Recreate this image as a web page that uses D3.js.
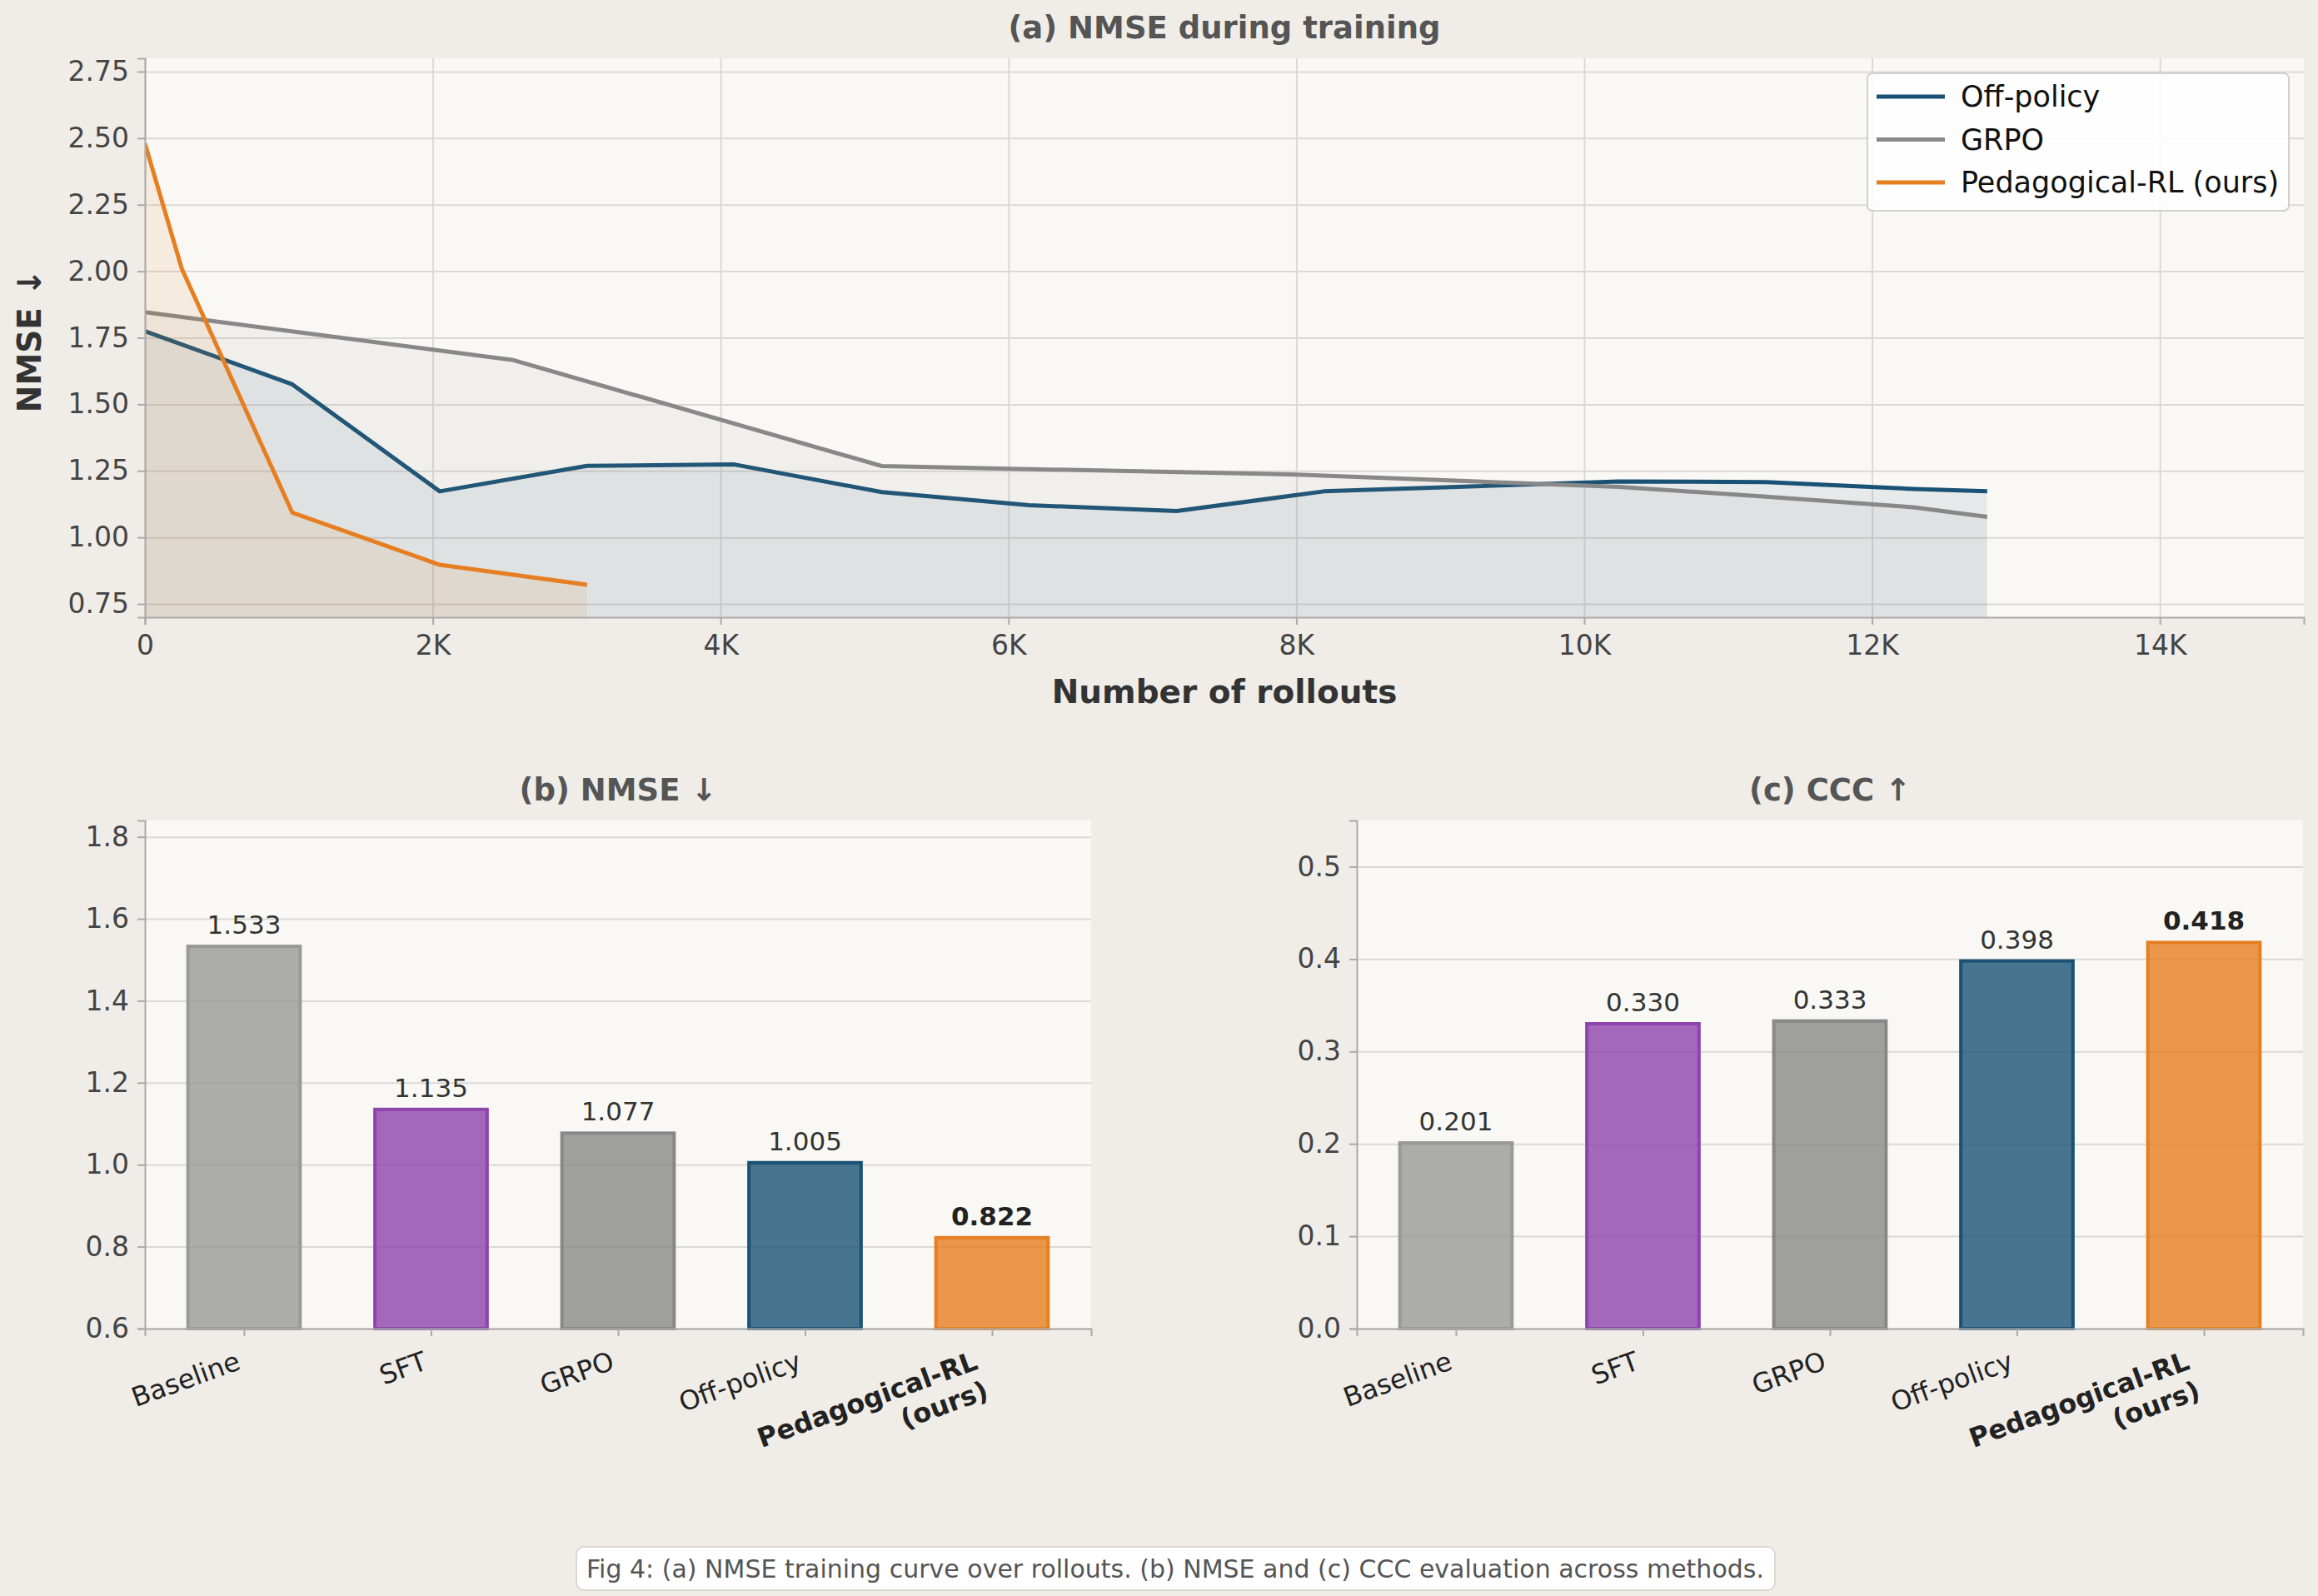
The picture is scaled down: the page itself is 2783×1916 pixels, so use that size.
<!DOCTYPE html>
<html>
<head>
<meta charset="utf-8">
<script src="https://cdn.jsdelivr.net/npm/d3@7"></script>
<style>
  body { margin: 0; background: #f0ede8; }
  text { font-family: "DejaVu Sans", sans-serif; }
</style>
</head>
<body>
<svg id="fig"></svg>
<script>
// ---- data ----
const offPolicyRollouts = [0, 1024, 2048, 3072, 4096, 5120, 6144, 7168, 8192, 10240, 11264, 12288, 12800];
const offPolicyNmse     = [1.775, 1.575, 1.173, 1.269, 1.274, 1.170, 1.121, 1.099, 1.173, 1.210, 1.208, 1.182, 1.173];
const grpoRollouts = [0, 2560, 5120, 8000, 10240, 11264, 12288, 12800];
const grpoNmse     = [1.846, 1.666, 1.268, 1.236, 1.190, 1.153, 1.113, 1.077];
const pedRollouts = [0, 256, 1024, 2048, 3072];
const pedNmse     = [2.48, 2.01, 1.093, 0.897, 0.822];

const seriesNames  = ['Off-policy', 'GRPO', 'Pedagogical-RL (ours)'];
const seriesColors = ['#1a5276', '#888888', '#e67e22'];

const methods    = ['Baseline', 'SFT', 'GRPO', 'Off-policy', 'Pedagogical-RL\n(ours)'];
const nmseScores = [1.533, 1.135, 1.077, 1.005, 0.822];
const cccScores  = [0.201, 0.330, 0.333, 0.398, 0.418];
const barColors  = ['#999999', '#8e44ad', '#888888', '#1a5276', '#e67e22'];

const xTicksTop = [0, 2000, 4000, 6000, 8000, 10000, 12000, 14000];
const yTicksTop = [0.75, 1.00, 1.25, 1.50, 1.75, 2.00, 2.25, 2.50, 2.75];
const yTicksNmse = [0.6, 0.8, 1.0, 1.2, 1.4, 1.6, 1.8];
const yTicksCcc  = [0.0, 0.1, 0.2, 0.3, 0.4, 0.5];

const caption = 'Fig 4: (a) NMSE training curve over rollouts. (b) NMSE and (c) CCC evaluation across methods.';

// ---- figure ----
const W = 2783, H = 1916;
const PLOT_BG = '#f9f8f5', GRID = '#dcd9d4', SPINE = '#aaaaaa';

const svg = d3.select('#fig').attr('width', W).attr('height', H);
svg.append('rect').attr('width', W).attr('height', H).attr('fill', '#f0ede8');

function styleAxis(g) {
  g.select('.domain').attr('stroke', SPINE).attr('stroke-width', 2);
  g.selectAll('.tick line').attr('stroke', SPINE).attr('stroke-width', 2);
  g.selectAll('.tick text').attr('fill', '#444').style('font-size', '33px')
    .style('font-family', '"DejaVu Sans", sans-serif');
}

// ---- (a) training curve ----
const boxA = {left: 174, top: 70, width: 2592, height: 671};
const xTop = d3.scaleLinear().domain([0, 15000]).range([0, boxA.width]);
const yTop = d3.scaleLinear().domain([0.70, 2.80]).range([boxA.height, 0]);

const a = svg.append('g').attr('transform', `translate(${boxA.left},${boxA.top})`);
a.append('rect').attr('width', boxA.width).attr('height', boxA.height).attr('fill', PLOT_BG);

a.append('defs').append('clipPath').attr('id', 'clipA')
  .append('rect').attr('width', boxA.width).attr('height', boxA.height);

// gridlines
a.append('g').call(d3.axisLeft(yTop).tickValues(yTicksTop).tickSize(-boxA.width).tickFormat(''))
  .call(g => g.select('.domain').remove())
  .call(g => g.selectAll('line').attr('stroke', GRID).attr('stroke-width', 2));
a.append('g').attr('transform', `translate(0,${boxA.height})`)
  .call(d3.axisBottom(xTop).tickValues(xTicksTop).tickSize(-boxA.height).tickFormat(''))
  .call(g => g.select('.domain').remove())
  .call(g => g.selectAll('line').attr('stroke', GRID).attr('stroke-width', 2));

const series = [
  {x: offPolicyRollouts, y: offPolicyNmse},
  {x: grpoRollouts, y: grpoNmse},
  {x: pedRollouts, y: pedNmse}
];
const area = d3.area().x(d => xTop(d[0])).y0(boxA.height).y1(d => yTop(d[1]));
const line = d3.line().x(d => xTop(d[0])).y(d => yTop(d[1]));
const plotG = a.append('g').attr('clip-path', 'url(#clipA)');
series.forEach((s, i) => {
  const pts = s.x.map((x, j) => [x, s.y[j]]);
  plotG.append('path').attr('d', area(pts)).attr('fill', seriesColors[i])
    .attr('fill-opacity', i === 2 ? 0.1 : 0.08);
  plotG.append('path').attr('d', line(pts)).attr('fill', 'none')
    .attr('stroke', seriesColors[i]).attr('stroke-width', 5).attr('stroke-linejoin', 'round');
});

a.append('g').call(d3.axisLeft(yTop).tickValues(yTicksTop).tickSize(9).tickPadding(10).tickFormat(d3.format('.2f')))
  .call(styleAxis);
a.append('g').attr('transform', `translate(0,${boxA.height})`)
  .call(d3.axisBottom(xTop).tickValues(xTicksTop).tickSize(9).tickPadding(13)
    .tickFormat(d => d === 0 ? '0' : (d / 1000) + 'K'))
  .call(styleAxis);

svg.append('text').attr('x', boxA.left + boxA.width / 2).attr('y', 46)
  .attr('text-anchor', 'middle').attr('font-weight', 'bold').attr('font-size', 37)
  .attr('fill', '#555').text('(a) NMSE during training');
svg.append('text').attr('x', boxA.left + boxA.width / 2).attr('y', 844)
  .attr('text-anchor', 'middle').attr('font-weight', 'bold').attr('font-size', 39)
  .attr('fill', '#333').text('Number of rollouts');
svg.append('text').attr('transform', 'translate(49,409) rotate(-90)')
  .attr('text-anchor', 'middle').attr('font-weight', 'bold').attr('font-size', 39)
  .attr('fill', '#333').text('NMSE ↓');

// legend
const leg = svg.append('g').attr('transform', 'translate(2242,88)');
leg.append('rect').attr('width', 506).attr('height', 165).attr('rx', 6)
  .attr('fill', '#ffffff').attr('fill-opacity', 0.85).attr('stroke', '#d0d0d0').attr('stroke-width', 2);
seriesNames.forEach((name, i) => {
  const cy = 28 + i * 51.5;
  leg.append('line').attr('x1', 11).attr('x2', 93).attr('y1', cy).attr('y2', cy)
    .attr('stroke', seriesColors[i]).attr('stroke-width', 5);
  leg.append('text').attr('x', 112).attr('y', cy + 12).attr('font-size', 35)
    .attr('fill', '#111').text(name);
});

// ---- (b) and (c) bar charts ----
function barChart(opts) {
  const {left, width, values, domain, ticks, fmt, title} = opts;
  const topY = 985, height = 610;
  const x = d3.scaleLinear().domain([-0.53, 4.53]).range([0, width]);
  const y = d3.scaleLinear().domain(domain).range([height, 0]);
  const g = svg.append('g').attr('transform', `translate(${left},${topY})`);
  g.append('rect').attr('width', width).attr('height', height).attr('fill', PLOT_BG);

  g.append('g').call(d3.axisLeft(y).tickValues(ticks).tickSize(-width).tickFormat(''))
    .call(s => s.select('.domain').remove())
    .call(s => s.selectAll('line').attr('stroke', GRID).attr('stroke-width', 2));

  const best = values.length - 1;
  g.selectAll('.bar').data(values).join('rect')
    .attr('class', 'bar')
    .attr('x', (d, i) => x(i - 0.3))
    .attr('width', x(0.6) - x(0))
    .attr('y', d => y(d))
    .attr('height', d => height - y(d))
    .attr('fill', (d, i) => barColors[i]).attr('fill-opacity', 0.8)
    .attr('stroke', (d, i) => barColors[i]).attr('stroke-width', 4);

  g.selectAll('.val').data(values).join('text')
    .attr('class', 'val')
    .attr('x', (d, i) => x(i))
    .attr('y', d => y(d) - 15)
    .attr('text-anchor', 'middle')
    .attr('font-size', 31)
    .attr('font-weight', (d, i) => i === best ? 'bold' : 'normal')
    .attr('fill', (d, i) => i === best ? '#222' : '#333')
    .text(d => d.toFixed(3));

  g.append('g').call(d3.axisLeft(y).tickValues(ticks).tickSize(9).tickPadding(10).tickFormat(d3.format(fmt)))
    .call(styleAxis);
  g.append('g').attr('transform', `translate(0,${height})`)
    .call(d3.axisBottom(x).tickValues(d3.range(values.length)).tickSize(9).tickFormat(''))
    .call(styleAxis);

  // rotated category labels
  methods.forEach((m, i) => {
    const lines = m.split('\n');
    const fs = 32, lh = fs * 1.17;
    const h = lines.length * lh;
    const t = g.append('text')
      .attr('transform', `translate(${x(i) - 0.34 * h},${height + 20}) rotate(-20)`)
      .attr('text-anchor', 'end').attr('font-size', fs)
      .attr('font-weight', i === best ? 'bold' : 'normal')
      .attr('fill', '#222');
    lines.forEach((ln, k) => {
      t.append('tspan').attr('x', 0).attr('dy', k === 0 ? '0.93em' : '1.17em').text(ln);
    });
  });

  svg.append('text').attr('x', left + width / 2).attr('y', 961)
    .attr('text-anchor', 'middle').attr('font-weight', 'bold').attr('font-size', 37)
    .attr('fill', '#555').text(title);
}

barChart({left: 174, width: 1136, values: nmseScores, domain: [0.6, 1.84],
  ticks: yTicksNmse, fmt: '.1f', title: '(b) NMSE ↓'});
barChart({left: 1629, width: 1136, values: cccScores, domain: [0, 0.55],
  ticks: yTicksCcc, fmt: '.1f', title: '(c) CCC ↑'});

// ---- caption ----
const cap = svg.append('g');
cap.append('rect').attr('x', 692).attr('y', 1857).attr('width', 1439).attr('height', 52)
  .attr('rx', 9).attr('fill', '#ffffff').attr('stroke', '#dcd8d0').attr('stroke-width', 2);
cap.append('text').attr('x', 1411).attr('y', 1894).attr('text-anchor', 'middle')
  .attr('font-size', 30).attr('fill', '#555').text(caption);
</script>
</body>
</html>
